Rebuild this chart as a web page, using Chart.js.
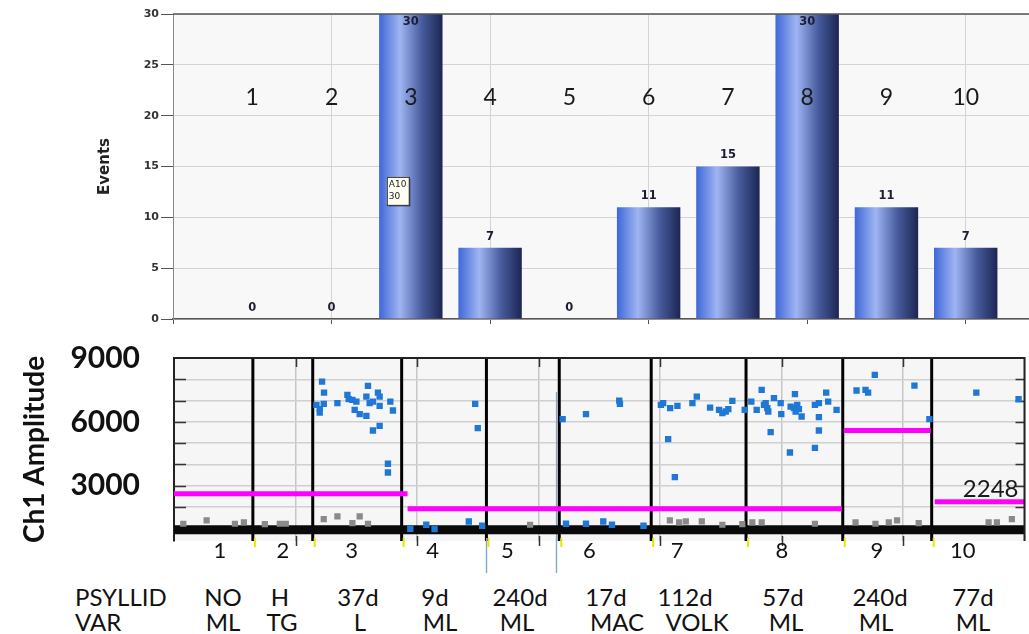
<!DOCTYPE html>
<html><head><meta charset="utf-8">
<script src="https://cdn.jsdelivr.net/npm/chart.js@4.4.1/dist/chart.umd.min.js"></script>
<style>
html,body{margin:0;padding:0;background:#fff;}
#wrap{position:relative;width:1029px;height:634px;overflow:hidden;font-family:Lato,"Open Sans",sans-serif;}
#c1{position:absolute;left:0;top:0;}
#c2{position:absolute;left:0;top:330px;}
.lbl{position:absolute;font-size:24px;color:#111;white-space:nowrap;line-height:1;font-family:Lato,sans-serif;}
</style></head>
<body><div id="wrap">
<canvas id="c1" width="1050" height="330"></canvas>
<canvas id="c2" width="1029" height="250"></canvas>
</div>
<script>
// ---------- DATA ----------
// upper panel: events per well
const categories = [1, 2, 3, 4, 5, 6, 7, 8, 9, 10];
const events = [0, 0, 30, 7, 0, 11, 15, 30, 11, 7];
const calloutText = ['A10', '30'];

// lower panel: droplet amplitude vs event number
const posEvent = [11771,11929,11326,11906,11588,11588,12993,13787,13890,14183,14501,14366,14763,15295,15422,15295,15557,16215,16350,16350,15818,17200,17406,16350,15818,17009,17009,
  18787,20057,20716,23946,24152,23438,24501,
  30899,32756,35399,35454,31169,32756,34129,34820,37328,
  38709,38891,39447,40026,41217,41566,42622,43336,43598,43868,44074,44392,45376,39288,39820,
  45900,46328,46725,46908,47043,47249,47170,47701,48233,48281,49368,49027,49289,49551,49686,49424,49900,50956,51273,51853,52011,52678,51273,51273,47439,50956,48971,
  54265,54980,55186,55718,58869,60059,
  63790,67147];
const posAmp = [7892,7376,6798,6845,6596,6437,6878,7268,7066,7033,6953,6563,6362,6282,7690,7188,6878,7376,7188,6751,6953,6953,6531,5812,5592,4028,3620,
  976,1164,962,6845,5704,1319,1117,
  6127,6362,7000,6845,1211,1211,1319,1164,1117,
  6798,6878,6643,6751,6878,7188,6671,6563,6408,6484,6596,6986,6563,5188,3404,
  6953,6563,7502,6798,6878,6484,6643,7113,6878,6362,7301,6718,6643,6798,6596,6484,6249,6798,6878,7376,6953,6563,6221,5592,5516,4779,4559,
  7470,7502,7376,8207,7704,6127,
  7376,7066];
const negEvent = [738,2595,4842,5556,7223,8413,8889,11906,12993,14183,14763,15422,28311,39423,40161,40693,41963,43598,45185,45979,46725,50956,54186,55773,56829,57488,59210,64766,65424,66615];
const negAmp = [1211,1366,1211,1272,1197,1211,1211,1432,1554,1244,1554,1211,1164,1366,1272,1319,1319,1164,1197,1272,1272,1211,1272,1211,1272,1366,1244,1272,1272,1432];
const bandAmp = 930;
const thrStart = [0, 18570, 53250, 60480];
const thrEnd = [18570, 53100, 60160, 67620];
const thrAmp = [2620, 1910, 5590, 2248];
const wellBoundary = [6270, 11030, 18100, 24840, 30630, 37940, 45480, 53170, 60240];
const wellCenter = [3651, 8651, 14127, 20556, 26508, 33017, 40000, 48336, 55876, 62702];
const markerEvent = [24840, 30400];
const markerTopAmp = [900, 7400];
const ampTickValues = [1000, 2000, 3000, 4000, 5000, 6000, 7000, 8000, 9000];
const eventMax = 67620;

// table below
const rowHeaders = ['PSYLLID', 'VAR'];
const psyllid = ['NO', 'H', '37d', '9d', '240d', '17d', '112d', '57d', '240d', '77d'];
const variety = ['ML', 'TG', 'L', 'ML', 'ML', 'MAC', 'VOLK', 'ML', 'ML', 'ML'];

// ---------- layout (pixels) ----------
const col1X = [223, 280, 358, 435, 520, 606, 685, 783, 880, 973];
const col2X = [223, 282, 360, 440, 517, 617, 697, 786, 876, 973];
const rowY = [597, 622];

// ---------- upper chart ----------
function barGradient(c) {
  const chart = c.chart, xs = chart.scales && chart.scales.x;
  if (!xs || c.type !== 'data' || !c.raw) return '#4a6fd6';
  const cx = xs.getPixelForValue(c.raw.x);
  const w = (xs.getPixelForValue(1) - xs.getPixelForValue(0)) * 0.8;
  if (!isFinite(cx) || !isFinite(w) || w <= 0) return '#4a6fd6';
  const g = chart.ctx.createLinearGradient(cx - w / 2, 0, cx + w / 2, 0);
  g.addColorStop(0, '#3f68d8');
  g.addColorStop(0.33, '#9fb5f2');
  g.addColorStop(0.68, '#465a9c');
  g.addColorStop(1, '#1c2652');
  return g;
}

const topDeco = {
  id: 'topDeco',
  beforeDraw(chart) {
    const { ctx, chartArea: a } = chart;
    ctx.save(); ctx.fillStyle = '#f8f8f8';
    ctx.fillRect(a.left, a.top, a.right - a.left, a.bottom - a.top); ctx.restore();
  },
  afterDatasetsDraw(chart, args, opts) {
    const { ctx, chartArea: a, scales: { x, y } } = chart;
    ctx.save();
    ctx.strokeStyle = '#555'; ctx.lineWidth = 1.5;
    ctx.beginPath(); ctx.moveTo(a.left, a.top); ctx.lineTo(a.right, a.top); ctx.stroke();
    // value labels
    ctx.font = 'bold 11.5px "DejaVu Sans"'; ctx.fillStyle = '#1b1e33';
    ctx.textAlign = 'center'; ctx.textBaseline = 'middle';
    categories.forEach((c, i) => {
      const px = x.getPixelForValue(c);
      let py = y.getPixelForValue(events[i]) - 11;
      if (py < a.top + 8) py = a.top + 8;
      ctx.fillText(String(events[i]), px, py);
    });
    // big well numbers
    ctx.font = '23px Lato'; ctx.fillStyle = '#1a1a1a';
    const ny = y.getPixelForValue(opts.numberLevel);
    categories.forEach(c => ctx.fillText(String(c), x.getPixelForValue(c), ny));
    // callout box on bar 3
    const bx = x.getPixelForValue(categories[opts.calloutIndex]) - 24;
    const by = y.getPixelForValue(opts.calloutLevel) - 14;
    ctx.fillStyle = 'rgba(0,0,0,0.25)'; ctx.fillRect(bx + 2, by + 2, 22, 28);
    ctx.fillStyle = '#fffff2'; ctx.fillRect(bx, by, 22, 28);
    ctx.strokeStyle = '#333'; ctx.lineWidth = 1; ctx.strokeRect(bx + 0.5, by + 0.5, 22, 28);
    ctx.font = '9px "DejaVu Sans"'; ctx.fillStyle = '#222'; ctx.textAlign = 'left';
    ctx.fillText(calloutText[0], bx + 2, by + 8);
    ctx.fillText(calloutText[1], bx + 2, by + 20);
    ctx.restore();
  }
};

new Chart(document.getElementById('c1'), {
  type: 'bar',
  data: { datasets: [{
    data: categories.map((c, i) => ({ x: c, y: events[i] })),
    backgroundColor: barGradient, borderWidth: 0,
    categoryPercentage: 1, barPercentage: 0.8
  }] },
  options: {
    responsive: false, animation: false,
    layout: { padding: { left: 92, top: 14, right: 5, bottom: 0 } },
    plugins: { legend: { display: false }, tooltip: { enabled: false },
      topDeco: { numberLevel: 21.8, calloutLevel: 12.6, calloutIndex: 2 } },
    scales: {
      x: { type: 'linear', min: 0, max: 11, offset: false,
        ticks: { stepSize: 2, display: false },
        grid: { color: '#d4d4d4', tickColor: '#555', tickLength: 5, offset: false },
        border: { color: '#555', width: 1.5 },
        afterFit(s) { s.height = 11; } },
      y: { min: 0, max: 30,
        ticks: { stepSize: 5, color: '#333', padding: 2, font: { family: '"DejaVu Sans"', size: 11, weight: 'bold' } },
        grid: { color: '#d4d4d4', tickColor: '#555', tickLength: 12 },
        border: { color: '#888' },
        title: { display: true, text: 'Events', color: '#222', padding: { top: 4, bottom: 4 },
          font: { family: '"DejaVu Sans"', size: 15, weight: 'bold' } },
        afterFit(s) { s.width = 81; } }
    }
  },
  plugins: [topDeco]
});

// ---------- lower chart ----------
const lowDeco = {
  id: 'lowDeco',
  beforeDraw(chart) {
    const { ctx, chartArea: a } = chart;
    ctx.save(); ctx.fillStyle = '#f6f6f6';
    ctx.fillRect(a.left, a.top, a.right - a.left, a.bottom - a.top); ctx.restore();
  },
  beforeDatasetsDraw(chart) {
    const { ctx, chartArea: a, scales: { x, y } } = chart;
    ctx.save();
    ctx.strokeStyle = '#333'; ctx.lineWidth = 1.5;
    y.ticks.forEach(t => {
      const py = Math.round(y.getPixelForValue(t.value)) + 0.5;
      if (py <= a.top + 2) return;
      ctx.beginPath(); ctx.moveTo(a.left, py); ctx.lineTo(a.left + 12, py);
      ctx.moveTo(a.right - 9, py); ctx.lineTo(a.right, py); ctx.stroke();
    });
    x.ticks.forEach(t => {
      if (t.value <= x.min || t.value >= x.max) return;
      const px = Math.round(x.getPixelForValue(t.value)) + 0.5;
      ctx.beginPath(); ctx.moveTo(px, a.top); ctx.lineTo(px, a.top + 9);
      ctx.moveTo(px, a.bottom - 5); ctx.lineTo(px, a.bottom + 5); ctx.stroke();
    });
    // thin blue event markers (under the data)
    ctx.strokeStyle = '#7ea7cc'; ctx.lineWidth = 1.2;
    markerEvent.forEach((v, i) => {
      const px = Math.round(x.getPixelForValue(v)) + 0.5;
      ctx.beginPath(); ctx.moveTo(px, y.getPixelForValue(markerTopAmp[i])); ctx.lineTo(px, a.bottom + 32); ctx.stroke();
    });
    ctx.strokeStyle = '#000'; ctx.lineWidth = 3;
    wellBoundary.forEach(v => {
      const px = x.getPixelForValue(v);
      ctx.beginPath(); ctx.moveTo(px, a.top); ctx.lineTo(px, a.bottom); ctx.stroke();
    });
    ctx.restore();
  },
  afterDatasetsDraw(chart) {
    const { ctx, chartArea: a, scales: { x, y } } = chart;
    ctx.save();
    ctx.strokeStyle = '#222'; ctx.lineWidth = 2;
    ctx.beginPath(); ctx.moveTo(a.left, a.top); ctx.lineTo(a.right, a.top); ctx.lineTo(a.right, a.bottom); ctx.stroke();
    // marker stubs below the band
    ctx.strokeStyle = '#7ea7cc'; ctx.lineWidth = 1.2;
    markerEvent.forEach(v => {
      const px = Math.round(x.getPixelForValue(v)) + 0.5;
      ctx.beginPath(); ctx.moveTo(px, a.bottom - 3); ctx.lineTo(px, a.bottom + 32); ctx.stroke();
    });
    // yellow marks at separators
    ctx.strokeStyle = '#e6e600'; ctx.lineWidth = 2;
    wellBoundary.forEach(v => {
      const px = x.getPixelForValue(v) + 2;
      ctx.beginPath(); ctx.moveTo(px, a.bottom - 3); ctx.lineTo(px, a.bottom + 6); ctx.stroke();
    });
    // well numbers
    ctx.font = '22px Lato'; ctx.fillStyle = '#111'; ctx.textAlign = 'center'; ctx.textBaseline = 'middle';
    categories.forEach((c, i) => ctx.fillText(String(c), x.getPixelForValue(wellCenter[i]), a.bottom + 10));
    // threshold label for the last well
    const li = thrAmp.length - 1;
    ctx.font = '24px Lato'; ctx.fillStyle = '#1a1a1a'; ctx.textAlign = 'right'; ctx.textBaseline = 'alphabetic';
    ctx.fillText(String(thrAmp[li]), x.getPixelForValue(thrEnd[li]) - 6, y.getPixelForValue(thrAmp[li]) - 5);
    ctx.restore();
  }
};

const lowDatasets = [];
thrAmp.forEach((v, i) => lowDatasets.push({
  data: [{ x: thrStart[i], y: v }, { x: thrEnd[i], y: v }],
  showLine: true, borderColor: '#ff00ff', borderWidth: 5, pointRadius: 0
}));
lowDatasets.push({
  data: posEvent.map((e, i) => ({ x: e, y: posAmp[i] })),
  pointStyle: 'rect', pointRadius: 4.5, backgroundColor: '#1f78d6', borderWidth: 0
});
lowDatasets.push({
  data: negEvent.map((e, i) => ({ x: e, y: negAmp[i] })),
  pointStyle: 'rect', pointRadius: 4.4, backgroundColor: '#8a8a8a', borderWidth: 0
});
lowDatasets.push({
  data: [{ x: 0, y: bandAmp }, { x: eventMax, y: bandAmp }],
  showLine: true, borderColor: '#0a0a0a', borderWidth: 9, pointRadius: 0
});

new Chart(document.getElementById('c2'), {
  type: 'scatter',
  data: { datasets: lowDatasets },
  options: {
    responsive: false, animation: false,
    layout: { padding: { left: 14, top: 28, right: 3, bottom: 0 } },
    plugins: { legend: { display: false }, tooltip: { enabled: false } },
    scales: {
      x: { type: 'linear', min: 0, max: eventMax,
        ticks: { stepSize: 10000, display: false },
        grid: { color: '#c6c6c6', lineWidth: 1.5, drawTicks: false },
        border: { display: false },
        afterFit(s) { s.height = 39; } },
      y: { min: 400, max: 9000,
        afterBuildTicks(s) { s.ticks = ampTickValues.map(v => ({ value: v })); },
        ticks: { color: '#111', padding: 4, autoSkip: false,
          font: { family: 'Lato', size: 30, weight: 'bold' },
          callback: v => (v % 3000 === 0 ? String(v) : '') },
        grid: { color: '#d0d0d0', lineWidth: 1.5, drawTicks: true, tickLength: 30, tickColor: 'rgba(0,0,0,0)' },
        border: { color: '#222', width: 2 },
        title: { display: true, text: 'Ch1 Amplitude', color: '#111', padding: { top: 4, bottom: 4 },
          font: { family: 'Lato', size: 28, weight: 'bold' } },
        afterFit(s) { s.width = 160; } }
    }
  },
  plugins: [lowDeco]
});

// ---------- table text ----------
const wrap = document.getElementById('wrap');
function addText(t, x, y, center) {
  const d = document.createElement('div');
  d.className = 'lbl'; d.textContent = t;
  d.style.left = x + 'px'; d.style.top = y + 'px';
  d.style.transform = center ? 'translate(-50%,-50%)' : 'translate(0,-50%)';
  wrap.appendChild(d);
}
rowHeaders.forEach((h, r) => addText(h, 75, rowY[r], false));
psyllid.forEach((t, i) => addText(t, col1X[i], rowY[0], true));
variety.forEach((t, i) => addText(t, col2X[i], rowY[1], true));
</script>
</body></html>
